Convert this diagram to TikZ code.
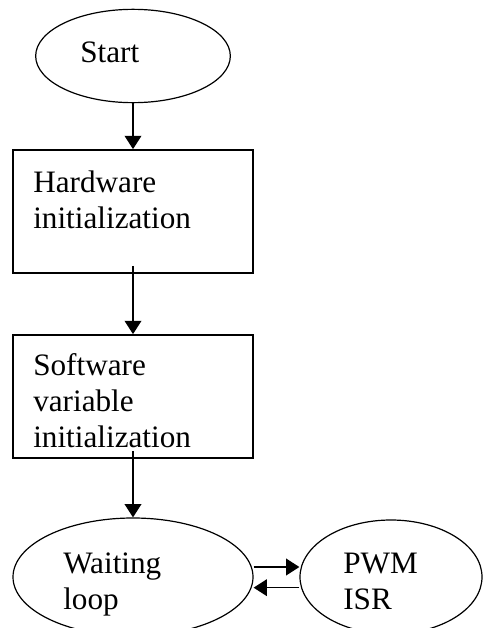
\documentclass[tikz,border=0pt]{standalone}
\usepackage{fontspec}
\setmainfont{Liberation Serif}
\usetikzlibrary{shapes.geometric, arrows.meta}

\begin{document}
\begin{tikzpicture}[x=0.75pt,y=-0.75pt,
	oval/.style={draw, ellipse, line width=0.9pt, inner sep=0pt},
	box/.style={draw, rectangle, line width=1.3pt, inner sep=0pt, minimum width=180pt, minimum height=92.25pt},
	lbl/.style={anchor=base west, align=left, inner sep=0pt, font=\fontsize{23.4}{27}\selectfont},
	arr/.style={line width=1.2pt, -{Triangle[length=10pt,width=12.5pt]}}]

	\path[use as bounding box, clip] (0,0) rectangle (483,628);

	% Start
		\node[oval, minimum width=146pt, minimum height=70pt] (start) at (133,56) {};
		\node[lbl] (starttxt) at (80,62) {Start};

	% Hardware
		\node[box] (hw) at (133,211.5) {};
		\node[lbl] (hwtxt) at (33,228) {Hardware\\initialization};

	% Software
		\node[box] (sw) at (133,396.5) {};
		\node[lbl] (swtxt) at (33,447) {Software\\variable\\initialization};

	% Waiting loop
		\node[oval, minimum width=180pt, minimum height=88.5pt] (wait) at (133,577) {};
		\node[lbl] (waittxt) at (63,609) {Waiting\\loop};

	% PWM ISR
		\node[oval, minimum width=136.5pt, minimum height=85.5pt] (pwm) at (391,577) {};
		\node[lbl] (pwmtxt) at (343,609) {PWM\\ISR};

	% Arrows
		\draw[arr] (start.south) -- (hw.north);
		\draw[arr] ([yshift=6pt]hw.south) -- (sw.north);
		\draw[arr] ([yshift=6pt]sw.south) -- (wait.north);
		\draw[arr] ([yshift=7.5pt]wait.east) -- ([yshift=7.5pt]pwm.west);
		\draw[arr] ([yshift=-8pt]pwm.west) -- ([yshift=-8pt]wait.east);
\end{tikzpicture}
\end{document}
